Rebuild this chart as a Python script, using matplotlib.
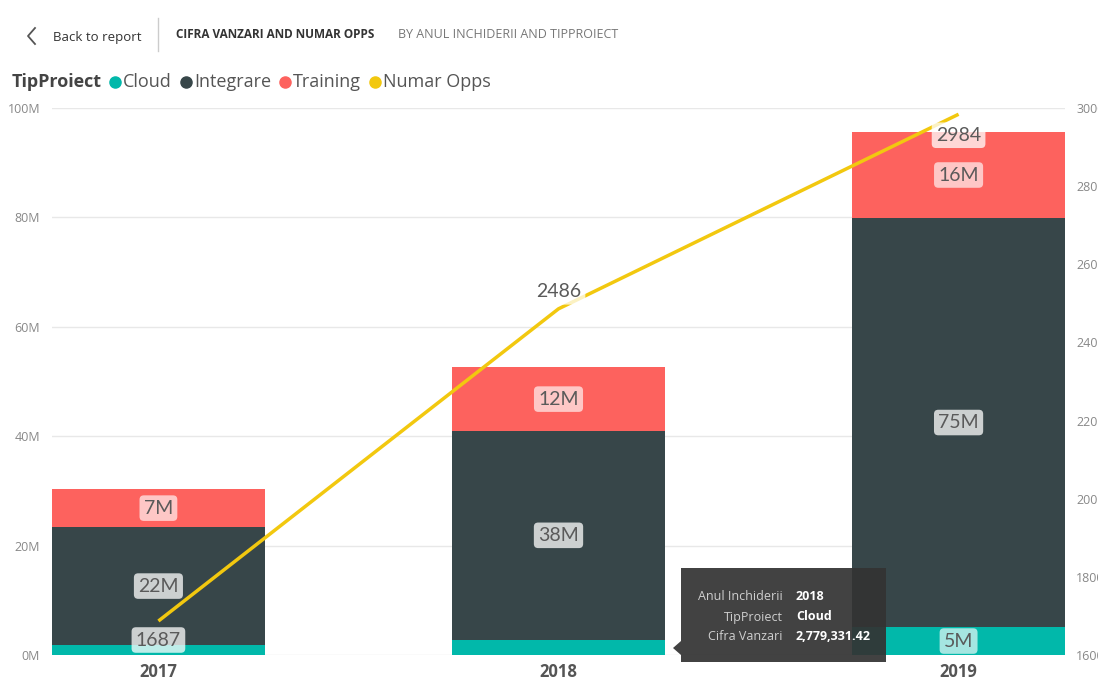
import numpy as np
import matplotlib
matplotlib.use('Agg')
import matplotlib.pyplot as plt
from matplotlib.lines import Line2D
from matplotlib.patches import FancyBboxPatch, Polygon
from matplotlib.ticker import FuncFormatter

# sales per project type (stacked) and number of opportunities per closing year
years = ['2017', '2018', '2019']
cloud = [1.8e6, 2779331.42, 5.1e6]
integrare = [21.6e6, 38.2e6, 74.8e6]
training = [6.9e6, 11.6e6, 15.7e6]
numar_opps = [1687, 2486, 2984]

series_names = ['Cloud', 'Integrare', 'Training']
opps_name = 'Numar Opps'

tip_rows = ['Anul Inchiderii', 'TipProiect', 'Cifra Vanzari']
tip_vals = [years[1], series_names[0], f'{cloud[1]:,.2f}']

colors = ['#01B8AA', '#374649', '#FD625E']
line_color = '#F2C80F'

plt.rcParams['font.family'] = ['Open Sans', 'DejaVu Sans']

W, H = 1098, 686
fig = plt.figure(figsize=(W / 100, H / 100), dpi=100)

def fx(px):
    return px / W

def fy(py):
    return 1 - py / H

ax = fig.add_axes([fx(52), fy(655), fx(1065) - fx(52), fy(108) - fy(655)])
ax2 = ax.twinx()

x = np.arange(len(years))
width = 0.532
bottom = np.zeros(len(years))
stack = [cloud, integrare, training]
for vals, col in zip(stack, colors):
    ax.bar(x, vals, width, bottom=bottom, color=col, zorder=2)
    for xi, b, v in zip(x, bottom, vals):
        if v >= 4e6:
            on_dark = col == '#374649'
            ax2.text(xi, b + v / 2, f'{v / 1e6:.0f}M', transform=ax.transData,
                     ha='center', va='center', fontsize=14, color='#5a5a5a',
                     family=['Lato', 'DejaVu Sans'], zorder=5,
                     bbox=dict(boxstyle='round,pad=0.22', fc='white',
                               ec='none', alpha=0.75 if on_dark else 0.65))
    bottom += np.array(vals)

ax.set_xlim(-0.266, 2.266)
ax.set_ylim(0, 100e6)
ax.set_yticks(np.arange(0, 100e6 + 1, 20e6))
ax.yaxis.set_major_formatter(FuncFormatter(lambda v, p: f'{v / 1e6:.0f}M'))
ax.grid(axis='y', color='#e8e8e8', lw=1, zorder=0)
ax.set_xticks(x)
ax.set_xticklabels(years, fontsize=12, fontweight='bold', color='#555555')

ax2.plot(x, numar_opps, color=line_color, lw=2.5, zorder=3, solid_capstyle='butt')
ax2.set_ylim(1600, 3000)
ax2.set_yticks(np.arange(1600, 3001, 200))
# label offsets in pixels: negative puts the label under the point
offsets = [-19, 17, -21]
for xi, v, off in zip(x, numar_opps, offsets):
    ax2.annotate(str(v), (xi, v), xytext=(0, off * 0.72), textcoords='offset points',
                 ha='center', va='center', fontsize=14, color='#5a5a5a',
                 family=['Lato', 'DejaVu Sans'], zorder=6,
                 bbox=dict(boxstyle='round,pad=0.22', fc='white', ec='none', alpha=0.75))

for a in (ax, ax2):
    for s in a.spines.values():
        s.set_visible(False)
    a.tick_params(length=0, labelsize=9, labelcolor='#888888')
ax.tick_params(axis='y', pad=8.5)
ax.tick_params(axis='x', pad=6, labelsize=12, labelcolor='#555555')
ax2.tick_params(axis='y', pad=8)

# header bar
fig.add_artist(Line2D([fx(35), fx(28), fx(35)], [fy(28), fy(36), fy(44)],
                      color='#555555', lw=1.3))
fig.text(fx(53), fy(37), 'Back to report', fontsize=9.5, color='#333333', va='center')
fig.add_artist(Line2D([fx(158), fx(158)], [fy(18), fy(51)], color='#cccccc', lw=1))
fig.text(fx(176), fy(35), 'CIFRA VANZARI AND NUMAR OPPS', fontsize=8.5,
         fontweight='bold', color='#333333', va='center')
fig.text(fx(398), fy(35), 'BY ANUL INCHIDERII AND TIPPROIECT', fontsize=9,
         color='#777777', va='center')

# legend row
fig.text(fx(12), fy(82), 'TipProiect', fontsize=13, fontweight='bold',
         color='#444444', va='center')
leg_x = [115, 186, 285, 375]
for px, name, col in zip(leg_x, series_names + [opps_name], colors + [line_color]):
    fig.add_artist(Line2D([fx(px)], [fy(82)], marker='o', ms=8, color=col, lw=0))
    fig.text(fx(px + 8), fy(82), name, fontsize=13, color='#555555', va='center')

# hover tooltip
tip = FancyBboxPatch((fx(681), fy(662)), fx(886) - fx(681), fy(568) - fy(662),
                     boxstyle='square,pad=0', fc='#333333', ec='none', alpha=0.93,
                     transform=fig.transFigure, zorder=10)
fig.add_artist(tip)
fig.add_artist(Polygon([[fx(681), fy(641)], [fx(673), fy(648)], [fx(681), fy(655)]],
                       closed=True, fc='#333333', ec='none', alpha=0.93,
                       transform=fig.transFigure, zorder=10))
for py, lab, val in zip([597, 617, 636], tip_rows, tip_vals):
    fig.text(fx(783), fy(py), lab, fontsize=9, color='#cfcfcf', ha='right',
             va='center', zorder=11)
    fig.text(fx(796), fy(py), val, fontsize=9, color='white', fontweight='bold',
             ha='left', va='center', zorder=11)

fig.savefig('out.png', dpi=100)
